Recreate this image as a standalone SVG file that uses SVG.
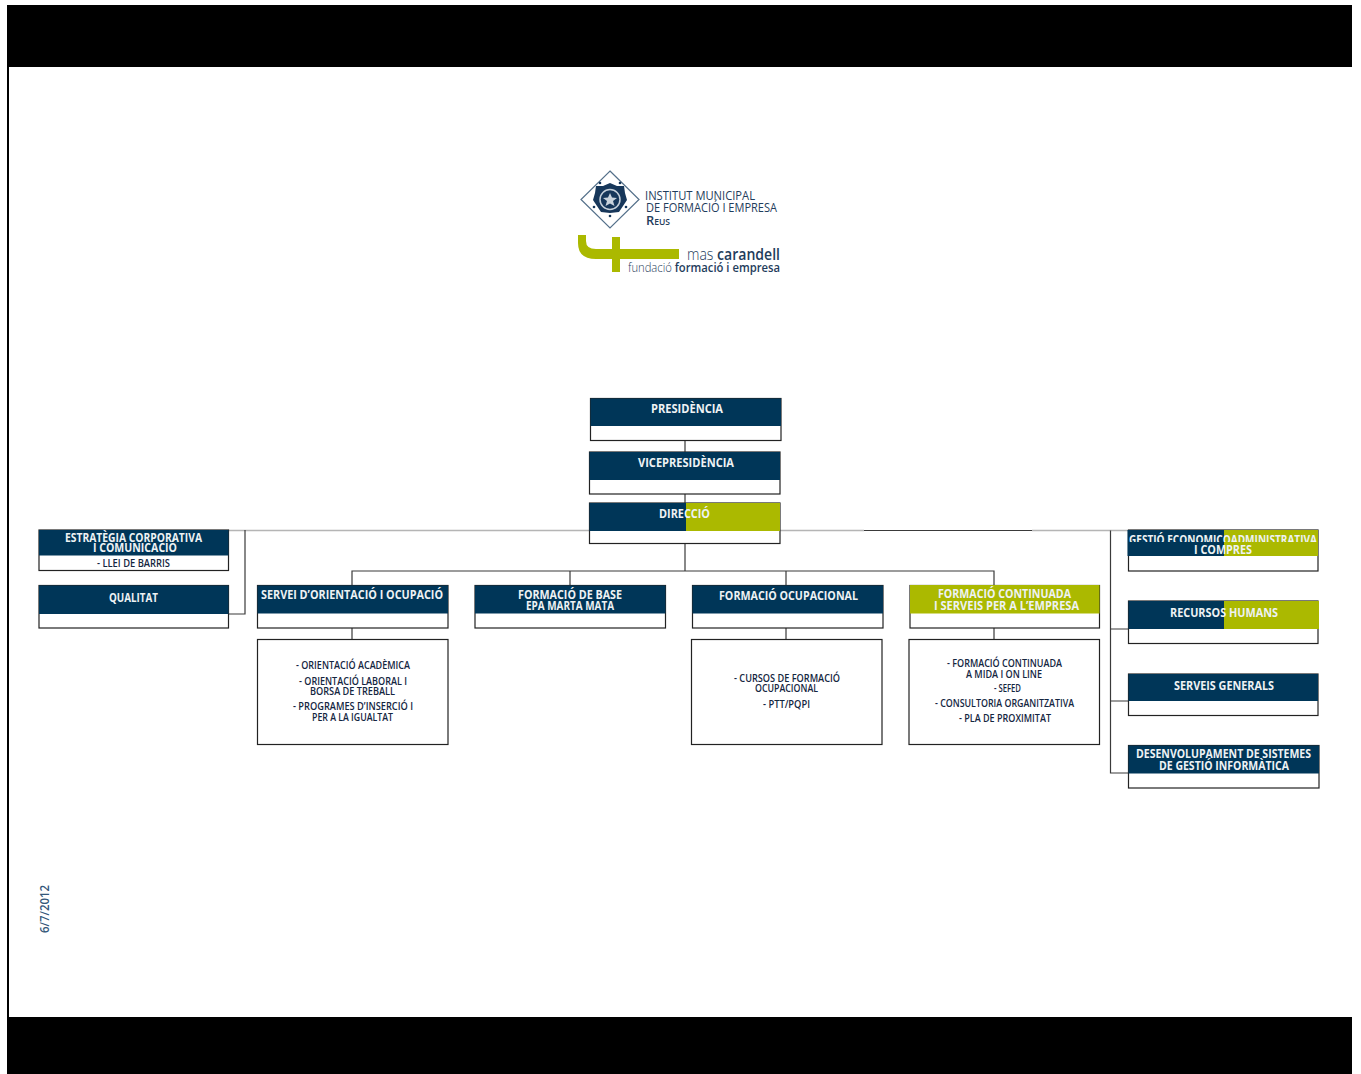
<svg xmlns="http://www.w3.org/2000/svg" width="1361" height="1074" viewBox="0 0 1361 1074">
<style>
text{font-family:"Open Sans","Noto Sans","Liberation Sans",sans-serif;text-anchor:middle}
.b{fill:#fff;stroke:#222;stroke-width:1.2}
.n{fill:#003658}
.g{fill:#abb900}
.h{fill:#eef2f4;font-size:12px;font-weight:700}
.d{fill:#14263f;font-size:10px;font-weight:600}
.l{fill:#1f3d5c;font-size:12px;font-weight:500}
.c{fill:none;stroke:#3a3a3a;stroke-width:1.2}
.s{fill:none;stroke:#b5b5b5;stroke-width:1.4}
</style>
<defs><clipPath id="cut"><rect x="1125" y="530" width="200" height="12"/></clipPath></defs>
<rect width="1361" height="1074" fill="#fff"/>
<g id="frame">
<rect x="7" y="5" width="1345" height="62" fill="#000"/>
<rect x="7" y="1017" width="1345" height="57" fill="#000"/>
<rect x="7" y="67" width="2" height="950" fill="#000"/>
</g>
<g id="logo">
<path d="M610 171L639 199.500L610 228L581 199.500Z" fill="#fff" stroke="#54708a" stroke-width="1.200"/>
<path d="M610 183L617 186L624 186L625 193L627 200L623 206L619 212L610 213L601 212L597 206L593 200L595 193L596 186L603 186Z" fill="#17375a"/>
<circle cx="610" cy="199.500" r="10" fill="none" stroke="#c6d0da" stroke-width="1.500"/>
<path d="M610 193L612 197.500L617 198L613 201L614.500 206L610 203.500L605.500 206L607 201L603 198L608 197.500Z" fill="#c9d3dc"/>
<circle cx="600" cy="183" r="1.300" fill="#17375a"/><circle cx="620" cy="183" r="1.300" fill="#17375a"/><circle cx="594" cy="207" r="1.300" fill="#17375a"/><circle cx="626" cy="207" r="1.300" fill="#17375a"/><circle cx="610" cy="216" r="1.300" fill="#17375a"/>
<text class="l" x="700" y="199.500" textLength="110" lengthAdjust="spacingAndGlyphs">INSTITUT MUNICIPAL</text>
<text class="l" x="711.500" y="212" textLength="131" lengthAdjust="spacingAndGlyphs">DE FORMACIÓ I EMPRESA</text>
<text class="l" x="658" y="224.500" textLength="24" lengthAdjust="spacingAndGlyphs" style="font-weight:600;font-size:12px;font-variant:small-caps">Reus</text>
<path d="M578 235H586V241Q586 249 596 249H612V237H620V249H679V259H620V272H612V259H596Q578 259 578 243Z" fill="#abb900"/>
<text x="733.500" y="260" textLength="93" lengthAdjust="spacingAndGlyphs" style="font-size:16px;fill:#1f3d5c;font-weight:300"><tspan>mas </tspan><tspan style="font-weight:600">carandell</tspan></text>
<text x="704" y="272" textLength="152" lengthAdjust="spacingAndGlyphs" style="font-size:13px;fill:#1f3d5c;font-weight:300"><tspan>fundació </tspan><tspan style="font-weight:600">formació i empresa</tspan></text>
</g>
<g id="connectors">
<path class="c" d="M685 440V452M685 494V503M685 543.500V571M352 585.500V571H994V585.500M570 571V585.500M786 571V585.500M352 628V639.500M786 628V639.500M994 628V639.500"/>
<path class="s" d="M228 530.500H589M780 530.500H864M1032 530.500H1128"/>
<path class="c" d="M864 530.500H1032M245 530V614H228M1110.500 530.500V773H1128.500M1110.500 629H1128M1110.500 701H1128"/>
</g>
<g id="presidencia"><rect class="b" x="590.500" y="398.500" width="190.500" height="42"/><rect class="n" x="590.500" y="398.500" width="190.500" height="27.500"/><text class="h" x="687" y="413" textLength="72" lengthAdjust="spacingAndGlyphs">PRESIDÈNCIA</text></g>
<g id="vicepresidencia"><rect class="b" x="589.500" y="452" width="190.500" height="42"/><rect class="n" x="589.500" y="452" width="190.500" height="28"/><text class="h" x="686" y="466.500" textLength="96" lengthAdjust="spacingAndGlyphs">VICEPRESIDÈNCIA</text></g>
<g id="direccio"><rect class="b" x="589.500" y="503" width="190.500" height="40.500"/><rect class="n" x="589.500" y="503" width="96.500" height="28"/><rect class="g" x="686" y="503" width="94" height="28"/><text class="h" x="684.500" y="518" textLength="51" lengthAdjust="spacingAndGlyphs">DIRECCIÓ</text></g>
<g id="estrategia"><rect class="b" x="39" y="530" width="189.500" height="40.500"/><rect class="n" x="39" y="530" width="189.500" height="25.500"/><text class="h" x="133.500" y="542" textLength="137" lengthAdjust="spacingAndGlyphs">ESTRATÈGIA CORPORATIVA</text><text class="h" x="135" y="551.500" textLength="84" lengthAdjust="spacingAndGlyphs">I COMUNICACIÓ</text><text class="d" x="133.500" y="566.500" textLength="73" lengthAdjust="spacingAndGlyphs">- LLEI DE BARRIS</text></g>
<g id="qualitat"><rect class="b" x="39" y="585.500" width="189.500" height="42.500"/><rect class="n" x="39" y="585.500" width="189.500" height="28.500"/><text class="h" x="133.500" y="602" textLength="49" lengthAdjust="spacingAndGlyphs">QUALITAT</text></g>
<g id="servei"><rect class="b" x="257.500" y="585.500" width="190.500" height="42.500"/><rect class="n" x="257.500" y="585.500" width="190.500" height="28"/><text class="h" x="352" y="598.500" textLength="182" lengthAdjust="spacingAndGlyphs">SERVEI D’ORIENTACIÓ I OCUPACIÓ</text></g>
<g id="servei-detall"><rect class="b" x="257.500" y="639.500" width="190.500" height="105"/><text class="d" x="353" y="668.500" textLength="114" lengthAdjust="spacingAndGlyphs">- ORIENTACIÓ ACADÈMICA</text><text class="d" x="353" y="684.500" textLength="108" lengthAdjust="spacingAndGlyphs">- ORIENTACIÓ LABORAL I</text><text class="d" x="352.500" y="695" textLength="85" lengthAdjust="spacingAndGlyphs">BORSA DE TREBALL</text><text class="d" x="353" y="709.500" textLength="120" lengthAdjust="spacingAndGlyphs">- PROGRAMES D’INSERCIÓ I</text><text class="d" x="352.500" y="720.500" textLength="81" lengthAdjust="spacingAndGlyphs">PER A LA IGUALTAT</text></g>
<g id="base"><rect class="b" x="475" y="585.500" width="190.500" height="42.500"/><rect class="n" x="475" y="585.500" width="190.500" height="28"/><text class="h" x="570" y="599" textLength="104" lengthAdjust="spacingAndGlyphs">FORMACIÓ DE BASE</text><text class="h" x="570" y="610" textLength="88" lengthAdjust="spacingAndGlyphs">EPA MARTA MATA</text></g>
<g id="ocupacional"><rect class="b" x="692.500" y="585.500" width="190.500" height="42.500"/><rect class="n" x="692.500" y="585.500" width="190.500" height="28"/><text class="h" x="788.500" y="600" textLength="139" lengthAdjust="spacingAndGlyphs">FORMACIÓ OCUPACIONAL</text></g>
<g id="ocupacional-detall"><rect class="b" x="691.500" y="639.500" width="190.500" height="105"/><text class="d" x="787" y="681.500" textLength="106" lengthAdjust="spacingAndGlyphs">- CURSOS DE FORMACIÓ</text><text class="d" x="786.500" y="692" textLength="63" lengthAdjust="spacingAndGlyphs">OCUPACIONAL</text><text class="d" x="786.500" y="708" textLength="47" lengthAdjust="spacingAndGlyphs">- PTT/PQPI</text></g>
<g id="continuada"><rect class="b" x="910" y="585.500" width="189.500" height="42.500"/><rect class="g" x="910" y="585" width="189.500" height="28.500"/><text class="h" x="1004.500" y="597.500" textLength="133" lengthAdjust="spacingAndGlyphs">FORMACIÓ CONTINUADA</text><text class="h" x="1006.500" y="609.500" textLength="145" lengthAdjust="spacingAndGlyphs">I SERVEIS PER A L’EMPRESA</text></g>
<g id="continuada-detall"><rect class="b" x="909" y="639.500" width="190.500" height="105"/><text class="d" x="1004.500" y="666.500" textLength="115" lengthAdjust="spacingAndGlyphs">- FORMACIÓ CONTINUADA</text><text class="d" x="1004" y="677.500" textLength="76" lengthAdjust="spacingAndGlyphs">A MIDA I ON LINE</text><text class="d" x="1007.500" y="691.500" textLength="27" lengthAdjust="spacingAndGlyphs">- SEFED</text><text class="d" x="1004.500" y="707" textLength="139" lengthAdjust="spacingAndGlyphs">- CONSULTORIA ORGANITZATIVA</text><text class="d" x="1005" y="722" textLength="92" lengthAdjust="spacingAndGlyphs">- PLA DE PROXIMITAT</text></g>
<g id="gestio"><rect class="b" x="1128.500" y="530" width="189.500" height="41"/><rect class="n" x="1127.500" y="530" width="96.500" height="26"/><rect class="g" x="1224" y="530" width="94" height="26"/><text class="h" x="1223" y="544" textLength="188" lengthAdjust="spacingAndGlyphs" clip-path="url(#cut)">GESTIÓ ECONOMICOADMINISTRATIVA</text><text class="h" x="1223" y="553.500" textLength="58" lengthAdjust="spacingAndGlyphs">I COMPRES</text></g>
<g id="recursos"><rect class="b" x="1128.500" y="601" width="189.500" height="42.500"/><rect class="n" x="1128.500" y="601" width="95.500" height="28"/><rect class="g" x="1224" y="601" width="95" height="28"/><text class="h" x="1224" y="616.500" textLength="108" lengthAdjust="spacingAndGlyphs">RECURSOS HUMANS</text></g>
<g id="serveis"><rect class="b" x="1128.500" y="674" width="189.500" height="41.500"/><rect class="n" x="1128.500" y="674" width="189.500" height="27"/><text class="h" x="1224" y="689.500" textLength="100" lengthAdjust="spacingAndGlyphs">SERVEIS GENERALS</text></g>
<g id="desenvolupament"><rect class="b" x="1128.500" y="745.500" width="190.500" height="42.500"/><rect class="n" x="1128.500" y="745.500" width="190.500" height="28"/><text class="h" x="1223.500" y="758" textLength="175" lengthAdjust="spacingAndGlyphs">DESENVOLUPAMENT DE SISTEMES</text><text class="h" x="1224" y="769.500" textLength="130" lengthAdjust="spacingAndGlyphs">DE GESTIÓ INFORMÀTICA</text></g>
<text transform="translate(49 909) rotate(-90)" textLength="48" lengthAdjust="spacingAndGlyphs" style="font-size:12px;font-weight:600;fill:#35587a">6/7/2012</text>
</svg>
